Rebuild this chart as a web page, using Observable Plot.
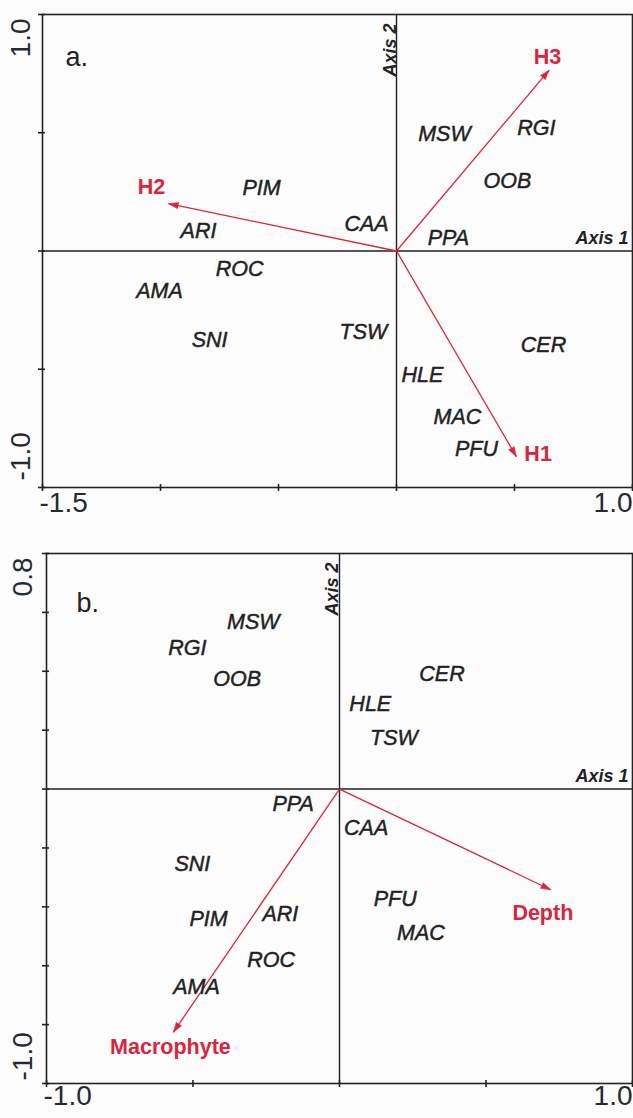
<!DOCTYPE html>
<html>
<head>
<meta charset="utf-8">
<script src="https://cdn.jsdelivr.net/npm/d3@7"></script>
<script src="https://cdn.jsdelivr.net/npm/@observablehq/plot@0.6"></script>
<style>
  html, body { margin: 0; padding: 0; background: #fcfcfc; }
  #chart { width: 633px; }
  #chart svg { display: block; }
  #chart svg text.sp { letter-spacing: 0.4px; }
</style>
</head>
<body>
<div id="chart"></div>
<script>
// ---------- Panel a ----------
const speciesA  = ["MSW","RGI","OOB","CAA","PPA","PIM","ARI","ROC","AMA","SNI","TSW","CER","HLE","MAC","PFU"];
const speciesAX = [0.203, 0.593, 0.470, -0.127, 0.220, -0.572, -0.839, -0.665, -1.004, -0.792, -0.140, 0.623, 0.110, 0.258, 0.339];
const speciesAY = [0.496, 0.521, 0.294, 0.115, 0.056, 0.268, 0.082, -0.075, -0.168, -0.375, -0.341, -0.396, -0.523, -0.701, -0.836];
const envA       = ["H1", "H2", "H3"];
const envAX      = [0.508, -0.966, 0.647];
const envAY      = [-0.870, 0.200, 0.765];
const envALabelX = [0.600, -1.038, 0.640];
const envALabelY = [-0.857, 0.272, 0.820];
const aXTicks = [-1.5, -1.0, -0.5, 0, 0.5, 1.0];
const aYTicks = [-1.0, -0.5, 0, 0.5, 1.0];
const aXTickLabels = ["-1.5", "1.0"];   // at domain ends
const aYTickLabels = ["-1.0", "1.0"];
const aXDomain = [-1.5, 1.0];
const aYDomain = [-1.0, 1.0];

// ---------- Panel b ----------
const speciesB  = ["MSW","RGI","OOB","CER","HLE","TSW","PPA","CAA","SNI","PIM","ARI","ROC","AMA","PFU","MAC"];
const speciesBX = [-0.294, -0.519, -0.349, 0.350, 0.105, 0.186, -0.158, 0.091, -0.502, -0.447, -0.202, -0.233, -0.488, 0.190, 0.278];
const speciesBY = [0.566, 0.477, 0.372, 0.389, 0.290, 0.174, -0.050, -0.132, -0.254, -0.441, -0.424, -0.580, -0.672, -0.373, -0.489];
const envB       = ["Macrophyte", "Depth"];
const envBX      = [-0.567, 0.721];
const envBY      = [-0.826, -0.342];
const envBLabelX = [-0.577, 0.694];
const envBLabelY = [-0.877, -0.420];
const bXTicks = [-1.0, -0.5, 0, 0.5, 1.0];
const bYTicks = [-1.0, -0.8, -0.6, -0.4, -0.2, 0, 0.2, 0.4, 0.6, 0.8];
const bXTickLabels = ["-1.0", "1.0"];
const bYTickLabels = ["-1.0", "0.8"];
const bXDomain = [-1.0, 1.0];
const bYDomain = [-1.0, 0.8];

const axis1Label = ["Axis 1"];
const axis2Label = ["Axis 2"];

const INK = "#222222";
const RED = "#d7263d";
const FONT = "'Liberation Sans', Arial, Helvetica, sans-serif";

function panel(cfg) {
  const W = 633;
  const kx = (W - cfg.mL - cfg.mR) / (cfg.xDomain[1] - cfg.xDomain[0]);
  const ky = (cfg.height - cfg.mT - cfg.mB) / (cfg.yDomain[1] - cfg.yDomain[0]);
  const si = d3.range(cfg.sp.length);
  const ei = d3.range(cfg.env.length);
  const angle = i => Math.atan2(cfg.envX[i] * kx, cfg.envY[i] * ky) * 180 / Math.PI;
  const hasSpike = typeof Plot.spike === "function";
  const heads = hasSpike
    ? Plot.vector(ei, {x: i => cfg.envX[i], y: i => cfg.envY[i], rotate: angle, length: 10, r: 3.2,
        shape: "spike", anchor: "end", fill: RED, stroke: RED, strokeWidth: 0.5})
    : Plot.arrow(ei, {x1: () => 0, y1: () => 0, x2: i => cfg.envX[i], y2: i => cfg.envY[i],
        stroke: RED, strokeWidth: 1.3, headLength: 9});
  return Plot.plot({
    width: W,
    height: cfg.height,
    marginTop: cfg.mT, marginBottom: cfg.mB, marginLeft: cfg.mL, marginRight: cfg.mR,
    style: {fontFamily: FONT, background: "transparent", overflow: "visible", color: INK},
    x: {domain: cfg.xDomain, axis: null},
    y: {domain: cfg.yDomain, axis: null},
    marks: [
      Plot.frame({stroke: INK, strokeWidth: 1.6}),
      Plot.ruleX([0], {stroke: INK, strokeWidth: 1.4}),
      Plot.ruleY([0], {stroke: INK, strokeWidth: 1.4}),
      Plot.axisX({ticks: cfg.xTicks, tickSize: 7, dy: -3, tickFormat: () => "", label: null, stroke: INK, strokeWidth: 1.6}),
      Plot.axisY({ticks: cfg.yTicks, tickSize: 7, dx: 3, tickFormat: () => "", label: null, stroke: INK, strokeWidth: 1.6}),
      // x tick labels (domain ends)
      Plot.text([0], {x: () => cfg.xDomain[0], text: () => cfg.xLab[0], frameAnchor: "bottom", textAnchor: "start", dx: -3, dy: cfg.xLabDy, fontSize: 28, fill: "#252a30"}),
      Plot.text([1], {x: () => cfg.xDomain[1], text: () => cfg.xLab[1], frameAnchor: "bottom", textAnchor: "end", dx: 0, dy: cfg.xLabDy, fontSize: 28, fill: "#252a30"}),
      // y tick labels (rotated)
      Plot.text([0], {y: () => cfg.yDomain[0], text: () => cfg.yLab[0], frameAnchor: "left", rotate: -90, textAnchor: "start", dx: cfg.yLabDx, dy: cfg.yLabDyBottom, fontSize: 28, fill: "#252a30"}),
      Plot.text([1], {y: () => cfg.yDomain[1], text: () => cfg.yLab[1], frameAnchor: "left", rotate: -90, textAnchor: "end", dx: cfg.yLabDx, dy: cfg.yLabDyTop, fontSize: 28, fill: "#252a30"}),
      // panel letter
      Plot.text([cfg.letter], {frameAnchor: "top-left", textAnchor: "start", dx: cfg.letterDx, dy: cfg.letterDy, fontSize: 27, fill: INK}),
      // axis names
      Plot.text(axis1Label, {y: () => 0, frameAnchor: "right", textAnchor: "end", dx: -4, dy: -13, fontSize: 18, fontWeight: "bold", fontStyle: "italic", fill: INK}),
      Plot.text(axis2Label, {x: () => 0, frameAnchor: "top", rotate: -90, textAnchor: "end", dx: cfg.ax2Dx, dy: 9, fontSize: 18, fontWeight: "bold", fontStyle: "italic", fill: INK}),
      // environmental vectors
      Plot.link(ei, {x1: () => 0, y1: () => 0, x2: i => cfg.envX[i], y2: i => cfg.envY[i], stroke: RED, strokeWidth: 1.3}),
      heads,
      Plot.text(ei, {x: i => cfg.envLX[i], y: i => cfg.envLY[i], text: i => cfg.env[i], fill: RED, fontSize: 21.5, fontWeight: "bold"}),
      // species
      Plot.text(si, {x: i => cfg.spX[i], y: i => cfg.spY[i], text: i => cfg.sp[i], fontSize: 21.5, fontStyle: "italic", fill: INK, stroke: INK, strokeWidth: 0.45, className: "sp"})
    ]
  });
}

const chart = document.getElementById("chart");
chart.append(panel({
  height: 530, mT: 14, mB: 43, mL: 42, mR: 1,
  xDomain: aXDomain, yDomain: aYDomain, xTicks: aXTicks, yTicks: aYTicks,
  xLab: aXTickLabels, yLab: aYTickLabels, xLabDy: 24, yLabDx: -21, yLabDyBottom: -7, yLabDyTop: 4,
  letter: "a.", letterDx: 23, letterDy: 32, ax2Dx: -13,
  sp: speciesA, spX: speciesAX, spY: speciesAY,
  env: envA, envX: envAX, envY: envAY, envLX: envALabelX, envLY: envALabelY
}));
chart.append(panel({
  height: 588, mT: 23, mB: 35, mL: 46, mR: 1,
  xDomain: bXDomain, yDomain: bYDomain, xTicks: bXTicks, yTicks: bYTicks,
  xLab: bXTickLabels, yLab: bYTickLabels, xLabDy: 21, yLabDx: -23, yLabDyBottom: -3, yLabDyTop: 4,
  letter: "b.", letterDx: 30, letterDy: 39, ax2Dx: -14,
  sp: speciesB, spX: speciesBX, spY: speciesBY,
  env: envB, envX: envBX, envY: envBY, envLX: envBLabelX, envLY: envBLabelY
}));
</script>
</body>
</html>
